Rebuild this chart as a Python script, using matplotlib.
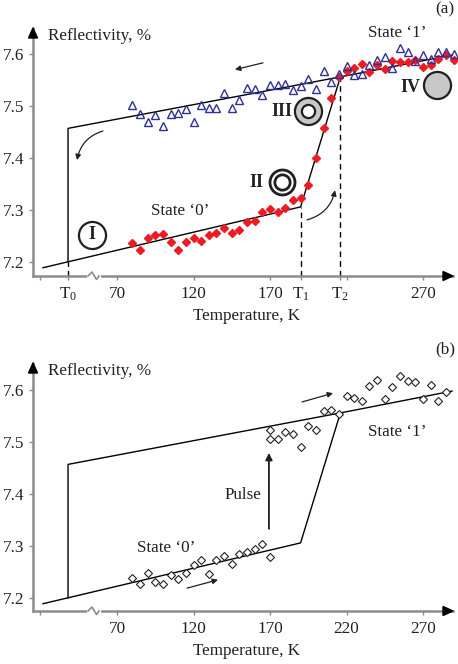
import matplotlib
matplotlib.use("Agg")
import matplotlib.pyplot as plt
from matplotlib.lines import Line2D
from matplotlib.patches import Polygon
import numpy as np

plt.rcParams['font.family'] = ['Liberation Serif', 'DejaVu Serif']
plt.rcParams['mathtext.fontset'] = 'custom'
plt.rcParams['mathtext.rm'] = 'Liberation Serif'
plt.rcParams['mathtext.it'] = 'Liberation Serif:italic'

# ---------------- data ----------------
T_grid = [80, 85, 90, 95, 100, 105, 110, 115, 120, 125, 130, 135, 140, 145, 150, 155,
          160, 165, 170, 175, 180, 185, 190, 195, 200, 205, 210, 215, 220, 225, 230, 235,
          240, 245, 250, 255, 260, 265, 270, 275, 280, 285, 290]
# panel (a): cooling (state '1', blue triangles)
cool_R = [7.502, 7.485, 7.470, 7.483, 7.462, 7.485, 7.487, 7.494, 7.469, 7.502, 7.497,
          7.496, 7.525, 7.496, 7.512, 7.534, 7.533, 7.522, 7.540, 7.540, 7.542, 7.531,
          7.538, 7.551, 7.533, 7.568, 7.546, 7.562, 7.576, 7.560, 7.562, 7.579, 7.588,
          7.595, 7.574, 7.611, 7.604, 7.587, 7.599, 7.590, 7.604, 7.604, 7.600]
# panel (a): heating (state '0' -> '1', red diamonds)
heat_R = [7.236, 7.224, 7.247, 7.252, 7.254, 7.239, 7.223, 7.238, 7.246, 7.240, 7.251,
          7.256, 7.265, 7.256, 7.262, 7.276, 7.279, 7.296, 7.301, 7.297, 7.304, 7.319,
          7.323, 7.348, 7.400, 7.457, 7.515, 7.555, 7.568, 7.573, 7.581, 7.566, 7.578,
          7.572, 7.587, 7.585, 7.585, 7.588, 7.575, 7.579, 7.590, 7.599, 7.588]
# panel (b): pulse-switched sample (open diamonds)
pulse_T = [80, 85, 90, 95, 100, 105, 110, 115, 120, 125, 130, 135, 140, 145, 150, 155,
           160, 165, 170, 170, 170, 175, 180, 185, 190, 195, 200, 205, 210, 215, 220,
           225, 230, 235, 240, 245, 250, 255, 260, 265, 270, 275, 280, 285]
pulse_R = [7.238, 7.226, 7.249, 7.230, 7.226, 7.244, 7.236, 7.249, 7.263, 7.273, 7.246,
           7.274, 7.281, 7.265, 7.284, 7.289, 7.294, 7.304, 7.278, 7.523, 7.506, 7.505,
           7.519, 7.516, 7.491, 7.531, 7.524, 7.560, 7.562, 7.553, 7.589, 7.584, 7.579,
           7.607, 7.619, 7.582, 7.605, 7.627, 7.617, 7.616, 7.583, 7.610, 7.579, 7.597]
# hysteresis model lines
lower_T = [21.6, 190, 216, 289]
lower_R = [7.189, 7.306, 7.556, 7.598]
upper_T = [38, 38, 216]
upper_R = [7.200, 7.457, 7.556]
T0, T1, T2 = 38, 190, 216
xticks_a = [20, T0, 70, 120, 170, T1, T2, 220, 270]
xlabels_a = ['', r'T$_{\mathrm{0}}$', '70', '120', '170', r'T$_{\mathrm{1}}$',
             r'T$_{\mathrm{2}}$', '', '270']
xticks_b = [20, 70, 120, 170, 220, 270]
xlabels_b = ['', '70', '120', '170', '220', '270']
yticks = [7.2, 7.3, 7.4, 7.5, 7.6]
ylabels = ['7.2', '7.3', '7.4', '7.5', '7.6']

# ---------------- figure ----------------
W, H = 458, 664
fig = plt.figure(figsize=(W / 100, H / 100), dpi=100)
GRAY = '#8c8c8c'
TXT = '#231f20'
FS = 12.3


def fpt(px, py):
    return (px / W, 1 - py / H)


def px_axes(l, t, r, b):
    return fig.add_axes([l / W, 1 - b / H, (r - l) / W, (b - t) / H])


def style_axes(ax, top_px, right_px, bottom_px, left_px):
    for s in ['top', 'right']:
        ax.spines[s].set_visible(False)
    for s in ['left', 'bottom']:
        ax.spines[s].set_color(GRAY)
        ax.spines[s].set_linewidth(1.8)
    ax.tick_params(direction='out', length=3, width=1, color=GRAY,
                   labelsize=FS, labelcolor=TXT)
    ax.tick_params(axis='x', pad=4)
    ax.tick_params(axis='y', pad=3)
    ax.set_yticks(yticks)
    ax.set_yticklabels(ylabels)
    # arrow heads
    fig.add_artist(Polygon([fpt(left_px - 4.5, top_px + 10), fpt(left_px + 4.5, top_px + 10),
                            fpt(left_px, top_px)], closed=True, color='black',
                           transform=fig.transFigure))
    fig.add_artist(Polygon([fpt(right_px - 10, bottom_px - 4.5), fpt(right_px - 10, bottom_px + 4.5),
                            fpt(right_px, bottom_px)], closed=True, color='black',
                           transform=fig.transFigure))
    # axis break
    fig.add_artist(Line2D([89 / W, 99 / W], [1 - bottom_px / H] * 2, color='white', lw=3,
                          transform=fig.transFigure))
    zx = [88, 92, 96.5, 99]
    zy = [bottom_px, bottom_px - 4, bottom_px + 3.5, bottom_px]
    fig.add_artist(Line2D([x / W for x in zx], [1 - y / H for y in zy], color=GRAY, lw=1.2,
                          transform=fig.transFigure))


XL = (15.1, 289.6)

# ---------- panel (a) ----------
ax1 = px_axes(33, 28, 453, 276)
ax1.set_xlim(*XL)
ax1.set_ylim(7.1731, 7.65)
style_axes(ax1, 28, 453, 276, 33)
ax1.set_xticks(xticks_a)
ax1.set_xticklabels(xlabels_a)

ax1.plot(lower_T, lower_R, color='black', lw=1)
ax1.plot(upper_T, upper_R, color='black', lw=1)
for tx, top in [(T0, 7.2), (T1, 7.306), (T2, 7.556)]:
    ax1.plot([tx, tx], [7.1731, top], color='black', lw=1, ls=(0, (4, 3)))

ax1.plot(T_grid, heat_R, ls='none', marker='D', ms=3.8, color='#ed1c24', mec='#ed1c24',
         clip_on=False, zorder=4)
ax1.plot(T_grid, cool_R, ls='none', marker='^', ms=5.2, mfc='none', mec='#2e3192', mew=1.0,
         clip_on=False, zorder=5)

# state circles
ax1.plot([53.7], [7.252], marker='o', ms=19.5, mfc='white', mec=TXT, mew=1.6, zorder=6)
ax1.text(53.7, 7.252, 'I', ha='center', va='center', fontsize=13, fontweight='bold', color=TXT, zorder=7)
ax1.plot([177.8], [7.354], marker='o', ms=18, mfc='white', mec=TXT, mew=2.0, zorder=6)
ax1.plot([177.8], [7.354], marker='o', ms=11, mfc='white', mec=TXT, mew=2.0, zorder=7)
ax1.text(161, 7.352, 'II', ha='center', va='center', fontsize=13, fontweight='bold', color=TXT)
ax1.plot([194.8], [7.490], marker='o', ms=19.5, mfc='#c8c8c8', mec=TXT, mew=1.6, zorder=6)
ax1.plot([194.8], [7.490], marker='o', ms=9.5, mfc='white', mec=TXT, mew=1.6, zorder=7)
ax1.text(178, 7.4887, 'III', ha='center', va='center', fontsize=13, fontweight='bold', color=TXT)
ax1.plot([279.2], [7.540], marker='o', ms=19.5, mfc='#c8c8c8', mec=TXT, mew=1.6, zorder=6)
ax1.text(261.5, 7.535, 'IV', ha='center', va='center', fontsize=13, fontweight='bold', color=TXT)

ax1.text(111.2, 7.298, 'State \u20180\u2019', ha='center', va='center', fontsize=FS, color=TXT)
ax1.text(253.3, 7.640, 'State \u20181\u2019', ha='center', va='center', fontsize=FS, color=TXT)
ax1.text(24.9, 7.635, 'Reflectivity, %', ha='left', va='center', fontsize=FS, color=TXT)
ax1.annotate('', xy=(147.1, 7.570), xytext=(165.4, 7.583),
             arrowprops=dict(arrowstyle='-|>', color=TXT, lw=0.9, mutation_scale=8,
                             shrinkA=0, shrinkB=0))
ax1.annotate('', xy=(43.9, 7.396), xytext=(60.8, 7.452),
             arrowprops=dict(arrowstyle='-|>', color=TXT, lw=0.9, mutation_scale=8,
                             shrinkA=0, shrinkB=0, connectionstyle='arc3,rad=0.3'))
ax1.annotate('', xy=(212.5, 7.338), xytext=(194.2, 7.281),
             arrowprops=dict(arrowstyle='-|>', color=TXT, lw=0.9, mutation_scale=8,
                             shrinkA=0, shrinkB=0, connectionstyle='arc3,rad=0.3'))
fig.text(247 / W, 1 - 316 / H, 'Temperature, K', ha='center', va='center', fontsize=FS, color=TXT)
fig.text(445 / W, 1 - 9 / H, '(a)', ha='center', va='center', fontsize=FS, color=TXT)

# ---------- panel (b) ----------
ax2 = px_axes(33, 363, 453, 611)
ax2.set_xlim(*XL)
ax2.set_ylim(7.175, 7.652)
style_axes(ax2, 363, 453, 611, 33)
ax2.set_xticks(xticks_b)
ax2.set_xticklabels(xlabels_b)

ax2.plot(lower_T, lower_R, color='black', lw=1)
ax2.plot(upper_T, upper_R, color='black', lw=1)
ax2.plot(pulse_T, pulse_R, ls='none', marker='D', ms=4, mfc='white', mec=TXT, mew=0.8,
         clip_on=False, zorder=5)

ax2.text(102, 7.296, 'State \u20180\u2019', ha='center', va='center', fontsize=FS, color=TXT)
ax2.text(253.3, 7.519, 'State \u20181\u2019', ha='center', va='center', fontsize=FS, color=TXT)
ax2.text(152.4, 7.398, 'Pulse', ha='center', va='center', fontsize=FS, color=TXT)
ax2.text(24.9, 7.637, 'Reflectivity, %', ha='left', va='center', fontsize=FS, color=TXT)
ax2.annotate('', xy=(169.3, 7.479), xytext=(169.3, 7.333),
             arrowprops=dict(arrowstyle='-|>', color=TXT, lw=1.3, mutation_scale=10,
                             shrinkA=0, shrinkB=0))
ax2.annotate('', xy=(211.2, 7.594), xytext=(190.9, 7.577),
             arrowprops=dict(arrowstyle='-|>', color=TXT, lw=0.9, mutation_scale=8,
                             shrinkA=0, shrinkB=0))
ax2.annotate('', xy=(136, 7.235), xytext=(115.8, 7.219),
             arrowprops=dict(arrowstyle='-|>', color=TXT, lw=0.9, mutation_scale=8,
                             shrinkA=0, shrinkB=0))
fig.text(247 / W, 1 - 651 / H, 'Temperature, K', ha='center', va='center', fontsize=FS, color=TXT)
fig.text(445 / W, 1 - 349 / H, '(b)', ha='center', va='center', fontsize=FS, color=TXT)

fig.savefig('out.png', dpi=100)
